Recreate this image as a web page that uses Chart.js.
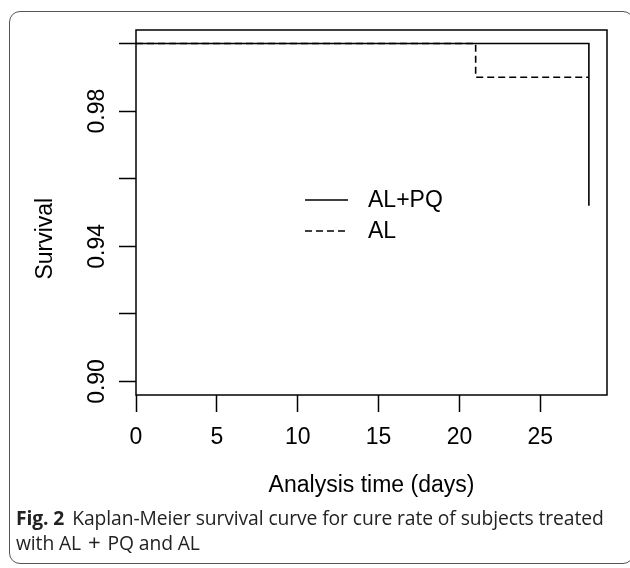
<!DOCTYPE html>
<html><head><meta charset="utf-8">
<script src="https://cdn.jsdelivr.net/npm/chart.js@4/dist/chart.umd.min.js"></script>
<style>
html,body{margin:0;padding:0;background:#fff;width:630px;height:568px;overflow:hidden;}
#frame{position:absolute;left:9px;top:11px;width:625px;height:553px;border:1px solid #555;border-radius:11px;box-sizing:border-box;}
#c{position:absolute;left:0;top:0;}
#cap{position:absolute;left:16px;top:505px;width:612px;font-family:'Open Sans',Lato,sans-serif;font-size:19.3px;line-height:25px;color:#222;white-space:nowrap;letter-spacing:-0.1px;}
#cap b{font-weight:700;margin-right:8px;}
#cap .pl{font-size:1.15em;line-height:0;margin:0 2px;}
</style></head><body>
<div id="frame"></div>
<canvas id="c" width="630" height="505"></canvas>
<div id="cap"><b>Fig. 2</b>Kaplan-Meier survival curve for cure rate of subjects treated<br>with AL <span class="pl">+</span> PQ and AL</div>
<script>
const seriesNames = ['AL+PQ', 'AL'];
const alpqTime = [0, 28];
const alpqSurv = [1.0, 0.952];
const alTime = [0, 21, 28];
const alSurv = [1.0, 0.990, 0.990];
const xTicks = [0, 5, 10, 15, 20, 25];
const xTickLabels = ['0', '5', '10', '15', '20', '25'];
const yTicks = [0.90, 0.92, 0.94, 0.96, 0.98, 1.00];
const yTickLabels = ['0.90', '', '0.94', '', '0.98', ''];
const xRange = [0, 29.12];
const yRange = [0.896, 1.004];
const xTitle = 'Analysis time (days)';
const yTitle = 'Survival\u2002\u2002\u2002\u2002 ';

const FONT = "'Liberation Sans', Arial, sans-serif";

const boxPlugin = {
  id: 'box',
  afterDraw(chart) {
    const {ctx, chartArea: a} = chart;
    ctx.save();
    ctx.strokeStyle = '#000';
    ctx.lineWidth = 1.5;
    ctx.strokeRect(a.left, a.top, a.right - a.left, a.bottom - a.top);
    ctx.restore();
  }
};

const legendPlugin = {
  id: 'rlegend',
  afterDraw(chart, args, opts) {
    const {ctx} = chart;
    ctx.save();
    ctx.font = '23px ' + FONT;
    ctx.fillStyle = '#000';
    ctx.textBaseline = 'middle';
    ctx.textAlign = 'left';
    chart.data.datasets.forEach((ds, i) => {
      const y = opts.y0 + i * opts.dy;
      ctx.beginPath();
      ctx.strokeStyle = ds.borderColor;
      ctx.lineWidth = ds.borderWidth;
      ctx.setLineDash(ds.borderDash || []);
      ctx.moveTo(opts.x0, y);
      ctx.lineTo(opts.x1, y);
      ctx.stroke();
      ctx.setLineDash([]);
      ctx.fillText(ds.label, opts.tx, y + 1);
    });
    ctx.restore();
  }
};

const tickGrid = {drawOnChartArea: false, drawTicks: true, tickLength: 17, tickWidth: 1.5, tickColor: '#000', color: '#000'};

new Chart(document.getElementById('c'), {
  type: 'line',
  data: {
    datasets: [
      {label: seriesNames[0], data: alpqTime.map((t, i) => ({x: t, y: alpqSurv[i]})),
       stepped: 'before', borderColor: '#000', borderWidth: 1.6, pointRadius: 0, fill: false},
      {label: seriesNames[1], data: alTime.map((t, i) => ({x: t, y: alSurv[i]})),
       stepped: 'before', borderColor: '#000', borderWidth: 1.6, borderDash: [7, 4], pointRadius: 0, fill: false}
    ]
  },
  options: {
    responsive: false, animation: false, devicePixelRatio: 1,
    layout: {padding: {left: 0, right: 23, top: 30, bottom: 0}},
    plugins: {
      legend: {display: false}, tooltip: {enabled: false},
      rlegend: {x0: 305, x1: 348, tx: 368, y0: 200, dy: 31}
    },
    scales: {
      x: {
        type: 'linear', min: xRange[0], max: xRange[1],
        afterBuildTicks: s => { s.ticks = xTicks.map(v => ({value: v})); },
        afterFit: s => { s.height = 110; },
        border: {display: false},
        grid: tickGrid,
        ticks: {font: {family: FONT, size: 23}, color: '#000', padding: 12, maxRotation: 0, autoSkip: false,
                callback: (v, i) => xTickLabels[i]},
        title: {display: true, text: xTitle, color: '#000', font: {family: FONT, size: 23, lineHeight: 1}, padding: {top: 0, bottom: 7.5}}
      },
      y: {
        type: 'linear', min: yRange[0], max: yRange[1],
        afterBuildTicks: s => { s.ticks = yTicks.map(v => ({value: v})); },
        afterFit: s => { s.width = 136; },
        border: {display: false},
        grid: tickGrid,
        ticks: {font: {family: FONT, size: 23}, color: '#000', padding: -1.4, minRotation: 90, maxRotation: 90,
                crossAlign: 'center', autoSkip: false, callback: (v, i) => yTickLabels[i]},
        title: {display: true, text: yTitle, color: '#000', font: {family: FONT, size: 23, lineHeight: 1}, padding: {top: 34.5, bottom: 0}}
      }
    }
  },
  plugins: [boxPlugin, legendPlugin]
});
</script>
</body></html>
